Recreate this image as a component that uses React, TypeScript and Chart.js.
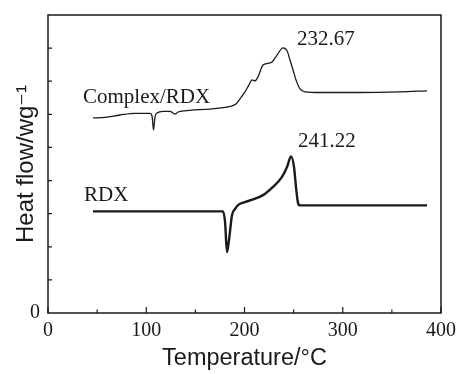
import React, { useEffect, useRef } from 'react';
import { Chart, registerables } from 'chart.js';

Chart.register(...registerables);

// Complex/RDX DSC curve
const complexTemp = [45.8, 58.0, 73.3, 88.5, 103.8, 105.9, 107.4, 108.9, 111.0, 117.0, 124.2, 129.3, 132.3, 144.5, 164.9, 185.2, 191.3, 195.4, 200.5, 204.6, 207.6, 210.7, 213.7, 218.8, 223.9, 228.0, 233.1, 239.2, 243.3, 246.3, 249.4, 252.4, 256.5, 261.6, 276.8, 317.6, 358.3, 385.8];
const complexFlow = [5.89, 5.91, 5.98, 6.03, 6.03, 5.95, 5.53, 5.92, 6.04, 6.09, 6.09, 6.01, 6.07, 6.12, 6.16, 6.24, 6.31, 6.47, 6.68, 6.89, 7.04, 7.01, 7.13, 7.49, 7.54, 7.58, 7.79, 8.01, 7.92, 7.64, 7.34, 7.04, 6.77, 6.68, 6.66, 6.66, 6.68, 6.71];

// RDX DSC curve
const rdxTemp = [45.8, 178.1, 180.2, 182.2, 184.2, 187.3, 190.3, 193.4, 200.5, 208.7, 218.8, 229.0, 238.2, 243.3, 247.3, 250.4, 252.4, 254.5, 256.5, 385.8];
const rdxFlow = [3.07, 3.07, 2.75, 1.84, 2.2, 2.96, 3.14, 3.26, 3.35, 3.43, 3.56, 3.81, 4.11, 4.41, 4.73, 4.41, 3.81, 3.32, 3.25, 3.25];

const xMajorTicks = [0, 100, 200, 300, 400];
const xMinorTicks = [50, 150, 250, 350];
const yTicks = [1, 2, 3, 4, 5, 6, 7, 8];

const seriesNames = ['Complex/RDX', 'RDX'];
const peakLabels = ['232.67', '241.22'];

// annotation anchors (data coordinates)
const annotations = [
  { text: seriesNames[0], x: 35.6, y: 6.34 },
  { text: seriesNames[1], x: 36.6, y: 3.38 },
  { text: peakLabels[0], x: 253.4, y: 8.1 },
  { text: peakLabels[1], x: 254.5, y: 5.02 },
];

const INK = '#1a1a1a';
const SERIF = '"Liberation Serif", "Times New Roman", serif';
const SANS = '"Liberation Sans", Arial, "DejaVu Sans", sans-serif';

const framePlugin = {
  id: 'frameAndTicks',
  afterDraw(chart: any) {
    const { ctx, chartArea } = chart;
    const xs = chart.scales.x;
    const ys = chart.scales.y;
    ctx.save();
    ctx.strokeStyle = INK;
    ctx.lineWidth = 1.5;
    ctx.strokeRect(chartArea.left, chartArea.top, chartArea.right - chartArea.left, chartArea.bottom - chartArea.top);
    ctx.lineWidth = 1.2;
    ctx.beginPath();
    for (const v of xMajorTicks) {
      const px = xs.getPixelForValue(v);
      ctx.moveTo(px, chartArea.bottom);
      ctx.lineTo(px, chartArea.bottom - 6);
    }
    for (const v of xMinorTicks) {
      const px = xs.getPixelForValue(v);
      ctx.moveTo(px, chartArea.bottom);
      ctx.lineTo(px, chartArea.bottom - 3.5);
    }
    for (const v of yTicks) {
      const py = ys.getPixelForValue(v);
      ctx.moveTo(chartArea.left, py);
      ctx.lineTo(chartArea.left + 4, py);
    }
    ctx.stroke();

    ctx.fillStyle = INK;
    ctx.font = `21px ${SERIF}`;
    ctx.textAlign = 'left';
    ctx.textBaseline = 'alphabetic';
    for (const a of annotations) {
      ctx.fillText(a.text, xs.getPixelForValue(a.x), ys.getPixelForValue(a.y));
    }
    ctx.restore();
  },
};

export default function App() {
  const canvasRef = useRef<HTMLCanvasElement | null>(null);

  useEffect(() => {
    const canvas = canvasRef.current;
    if (!canvas) return;
    const chart = new Chart(canvas, {
      type: 'line',
      data: {
        datasets: [
          {
            label: seriesNames[0],
            data: complexTemp.map((t, i) => ({ x: t, y: complexFlow[i] })),
            borderColor: INK,
            borderWidth: 1.3,
            pointRadius: 0,
            cubicInterpolationMode: 'monotone',
            fill: false,
          },
          {
            label: seriesNames[1],
            data: rdxTemp.map((t, i) => ({ x: t, y: rdxFlow[i] })),
            borderColor: INK,
            borderWidth: 2.4,
            pointRadius: 0,
            cubicInterpolationMode: 'monotone',
            fill: false,
          },
        ],
      },
      options: {
        responsive: false,
        animation: false,
        devicePixelRatio: 1,
        layout: { padding: { top: 15, right: 16, left: 0, bottom: 0 } },
        plugins: { legend: { display: false }, tooltip: { enabled: false } },
        scales: {
          x: {
            type: 'linear',
            min: 0,
            max: 400,
            afterFit: (s: any) => { s.height = 61; s.paddingLeft = 0; s.paddingRight = 0; },
            grid: { display: false, drawTicks: false },
            border: { display: false },
            ticks: {
              stepSize: 100,
              padding: 6,
              color: INK,
              font: { family: SERIF, size: 20 },
              maxRotation: 0,
            },
            title: {
              display: true,
              text: 'Temperature/°C',
              color: INK,
              font: { family: SANS, size: 23.5 },
              padding: { top: 0, bottom: 1 },
            },
          },
          y: {
            type: 'linear',
            min: 0,
            max: 9,
            afterFit: (s: any) => { s.width = 48; s.paddingTop = 0; s.paddingBottom = 0; },
            grid: { display: false, drawTicks: false },
            border: { display: false },
            ticks: {
              stepSize: 1,
              padding: 8,
              color: INK,
              font: { family: SERIF, size: 20 },
              callback: (v: any) => (v === 0 ? '0' : ''),
            },
            title: {
              display: true,
              text: 'Heat flow/wg⁻¹',
              color: INK,
              font: { family: SANS, size: 24 },
              padding: { top: 12, bottom: 0 },
            },
          },
        },
      },
      plugins: [framePlugin],
    });
    return () => chart.destroy();
  }, []);

  return (
    <div style={{ position: 'fixed', left: 0, top: 0, width: 457, height: 374, background: '#fff' }}>
      <canvas ref={canvasRef} width={457} height={374} style={{ display: 'block' }} />
    </div>
  );
}
